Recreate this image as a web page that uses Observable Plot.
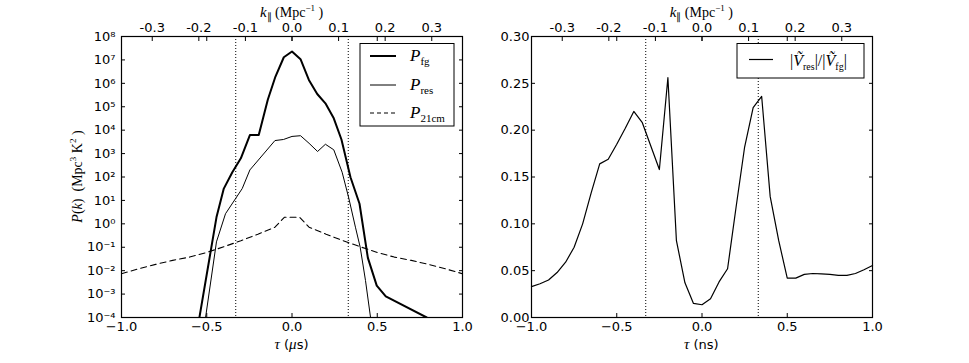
<!DOCTYPE html>
<html><head><meta charset="utf-8">
<script src="https://cdn.jsdelivr.net/npm/d3@7"></script>
<script src="https://cdn.jsdelivr.net/npm/@observablehq/plot@0.6"></script>
<style>
body{margin:0;background:#fff}
#wrap{display:flex;width:969px;height:363px}
#wrap svg{display:block}
</style>
</head><body><div id="wrap"></div>
<script>
// ---- Left panel: power spectra vs delay tau (μs) ----
const tauFg = [-0.56, -0.443, -0.40, -0.35, -0.30, -0.247, -0.195, -0.142, -0.097, -0.048, 0, 0.05, 0.099, 0.148, 0.196, 0.245, 0.29, 0.343, 0.396, 0.445, 0.497, 0.55, 0.79, 0.85];
const Pfg = [1.9e-5, 1.9, 32, 160, 630, 6.2e3, 6.2e3, 2.0e5, 1.95e6, 1.3e7, 2.3e7, 1.07e7, 1.4e6, 3.5e5, 1.4e5, 3.2e4, 4.0e3, 98, 7.2, 0.035, 2.3e-3, 7.9e-4, 1.0e-4, 6.3e-5];

const tauRes = [-0.52, -0.443, -0.39, -0.292, -0.247, -0.10, -0.05, 0, 0.05, 0.10, 0.15, 0.196, 0.245, 0.294, 0.333, 0.372, 0.40, 0.431, 0.47];
const Pres = [2.2e-5, 0.17, 2.7, 32, 200, 3.6e3, 4.0e3, 5.4e3, 5.8e3, 2.75e3, 1.23e3, 2.5e3, 1.45e3, 160, 12.6, 0.72, 0.1, 3.8e-3, 3.2e-5];

const tau21 = [-1, -0.9, -0.8, -0.7, -0.6, -0.5, -0.4, -0.3, -0.2, -0.1, -0.045, 0, 0.045, 0.1, 0.2, 0.3, 0.4, 0.5, 0.6, 0.7, 0.8, 0.9, 1];
const P21 = [7.4e-3, 1.2e-2, 1.86e-2, 2.75e-2, 3.8e-2, 6.0e-2, 0.105, 0.19, 0.36, 0.72, 1.9, 1.9, 1.9, 0.72, 0.36, 0.19, 0.105, 6.0e-2, 3.8e-2, 2.75e-2, 1.86e-2, 1.2e-2, 7.4e-3];

// ---- Right panel: visibility ratio vs delay tau (ns) ----
const tauRatio = [-1, -0.95, -0.9, -0.85, -0.8, -0.75, -0.7, -0.65, -0.6, -0.55, -0.5, -0.45, -0.4, -0.35, -0.25, -0.2, -0.15, -0.1, -0.05, 0, 0.05, 0.1, 0.15, 0.2, 0.25, 0.3, 0.35, 0.4, 0.45, 0.5, 0.55, 0.6, 0.65, 0.7, 0.75, 0.8, 0.85, 0.9, 0.95, 1];
const ratio = [0.033, 0.036, 0.040, 0.048, 0.059, 0.075, 0.100, 0.133, 0.164, 0.169, 0.185, 0.202, 0.220, 0.208, 0.158, 0.256, 0.082, 0.037, 0.015, 0.0136, 0.020, 0.038, 0.052, 0.118, 0.182, 0.224, 0.236, 0.129, 0.082, 0.042, 0.042, 0.046, 0.047, 0.0465, 0.046, 0.045, 0.045, 0.047, 0.051, 0.0555];

// ---- Axes ----
const tauTicks = [-1, -0.5, 0, 0.5, 1];
const kTicks = [-0.3, -0.2, -0.1, 0, 0.1, 0.2, 0.3];
const kPerTau = 0.366;            // k_par (Mpc^-1) per unit tau
const horizon = [-0.33, 0.33];    // dotted horizon lines
const logExps = [-4, -3, -2, -1, 0, 1, 2, 3, 4, 5, 6, 7, 8];
const ratioTicks = [0, 0.05, 0.10, 0.15, 0.20, 0.25, 0.30];

const SUP = {"-":"\u207B","0":"\u2070","1":"\u00B9","2":"\u00B2","3":"\u00B3","4":"\u2074","5":"\u2075","6":"\u2076","7":"\u2077","8":"\u2078","9":"\u2079"};
const supStr = s => String(s).split("").map(c => SUP[c]).join("");

const H = 363;
const SANS = "DejaVu Sans";
const SERIF = "Liberation Serif";

const fgData = tauFg.map((t, i) => ({t, v: Pfg[i]}));
const resData = tauRes.map((t, i) => ({t, v: Pres[i]}));
const d21 = tau21.map((t, i) => ({t, v: P21[i]}));
const rData = tauRatio.map((t, i) => ({t, v: ratio[i]}));

function commonX() {
  return [
    Plot.ruleX(horizon, {stroke: "black", strokeWidth: 1, strokeDasharray: "1,2"}),
    Plot.frame({stroke: "black", strokeWidth: 1.2}),
    Plot.axisX({anchor: "bottom", ticks: tauTicks, tickSize: 0, tickPadding: 4, tickFormat: d => d.toFixed(1).replace("-", "\u2212"), label: null, fontSize: 13}),
    Plot.axisX({anchor: "bottom", ticks: tauTicks, tickSize: -4, tickFormat: () => "", label: null}),
    Plot.axisX({anchor: "top", ticks: tauTicks, tickSize: -4, tickFormat: () => "", label: null}),
    Plot.axisX({anchor: "top", ticks: kTicks.map(k => k / kPerTau), tickSize: -4, tickFormat: () => "", label: null}),
    Plot.axisX({anchor: "top", ticks: kTicks.map(k => k / kPerTau), tickSize: 0, tickPadding: 5, tickFormat: d => (Math.round(d * kPerTau * 10) / 10).toFixed(1), label: null, fontSize: 13})
  ];
}

const left = Plot.plot({
  width: 484, height: H,
  marginLeft: 121, marginRight: 22, marginTop: 36, marginBottom: 46,
  style: {fontFamily: SANS, fontSize: "13px", color: "black", background: "white", overflow: "visible"},
  x: {domain: [-1, 1]},
  y: {type: "log", domain: [1e-4, 1e8]},
  marks: [
    Plot.line(d21, {x: "t", y: "v", stroke: "black", strokeWidth: 1.1, strokeDasharray: "6,4", clip: true}),
    Plot.line(resData, {x: "t", y: "v", stroke: "black", strokeWidth: 1, clip: true}),
    Plot.line(fgData, {x: "t", y: "v", stroke: "black", strokeWidth: 2, clip: true}),
    ...commonX(),
    Plot.axisY({anchor: "left", ticks: logExps.map(e => 10 ** e), tickSize: 0, tickPadding: 6, tickFormat: d => "10" + supStr(Math.round(Math.log10(d))), label: null, fontSize: 13}),
    Plot.axisY({anchor: "left", ticks: logExps.map(e => 10 ** e), tickSize: -4, tickFormat: () => "", label: null}),
    Plot.axisY({anchor: "right", ticks: logExps.map(e => 10 ** e), tickSize: -4, tickFormat: () => "", label: null})
  ]
});

const right = Plot.plot({
  width: 485, height: H,
  marginLeft: 47, marginRight: 97, marginTop: 36, marginBottom: 46,
  style: {fontFamily: SANS, fontSize: "13px", color: "black", background: "white", overflow: "visible"},
  x: {domain: [-1, 1]},
  y: {domain: [0, 0.3]},
  marks: [
    Plot.line(rData, {x: "t", y: "v", stroke: "black", strokeWidth: 1.2}),
    ...commonX(),
    Plot.axisY({anchor: "left", ticks: ratioTicks, tickSize: 0, tickPadding: 2, tickFormat: d => d.toFixed(2), label: null, fontSize: 13}),
    Plot.axisY({anchor: "left", ticks: ratioTicks, tickSize: -4, tickFormat: () => "", label: null}),
    Plot.axisY({anchor: "right", ticks: ratioTicks, tickSize: -4, tickFormat: () => "", label: null})
  ]
});

const wrap = document.getElementById("wrap");
wrap.appendChild(left);
wrap.appendChild(right);

// ---- rich text helper ----
function rich(sel, x, y, parts, opts = {}) {
  const t = sel.append("text").attr("x", x).attr("y", y)
    .attr("text-anchor", opts.anchor || "middle")
    .attr("font-size", opts.size || 13).attr("fill", "black")
    .attr("font-family", opts.family || SANS);
  if (opts.rotate) t.attr("transform", `rotate(${opts.rotate},${x},${y})`);
  let shift = 0;
  for (const p of parts) {
    const ts = t.append("tspan").text(p.t);
    if (p.f) ts.attr("font-family", p.f);
    if (p.i) ts.attr("font-style", "italic");
    if (p.s) ts.attr("font-size", p.s);
    const b = p.b || 0;
    if (b !== shift) { ts.attr("dy", b - shift); shift = b; }
  }
  return t;
}

function kLabel(sel, cx) {
  rich(sel, cx, 17, [
    {t: "k", f: SERIF, i: true, s: 15},
    {t: "\u2225", f: SERIF, s: 10, b: 3},
    {t: " (Mpc", f: SERIF, s: 14, b: 0},
    {t: "\u22121", f: SERIF, s: 9, b: -6},
    {t: " )", f: SERIF, s: 14, b: 0}
  ]);
}

const sl = d3.select(left), sr = d3.select(right);
kLabel(sl, 291.5);
kLabel(sr, 701.3 - 484);

rich(sl, 291.5, 349, [
  {t: "\u03C4", f: SERIF, i: true, s: 15},
  {t: " (", s: 13},
  {t: "\u03BC", f: SERIF, i: true, s: 15},
  {t: "s)", s: 13}
]);
rich(sr, 701.3 - 484, 349, [
  {t: "\u03C4", f: SERIF, i: true, s: 15},
  {t: " (ns)", s: 13}
]);

rich(sl, 82, 176.5, [
  {t: "P", f: SERIF, i: true, s: 14},
  {t: "(", f: SERIF, s: 14},
  {t: "k", f: SERIF, i: true, s: 14},
  {t: ")  (Mpc", f: SERIF, s: 14},
  {t: "3", f: SERIF, s: 9, b: -6},
  {t: " K", f: SERIF, s: 14, b: 0},
  {t: "2", f: SERIF, s: 9, b: -6},
  {t: " )", f: SERIF, s: 14, b: 0}
], {rotate: -90});

// ---- legends ----
const lg = sl.append("g");
lg.append("rect").attr("x", 360).attr("y", 43.5).attr("width", 94).attr("height", 82.5)
  .attr("fill", "white").attr("stroke", "black").attr("stroke-width", 1);
const rows = [
  {y: 56, w: 2, dash: null, sub: "fg"},
  {y: 85, w: 1, dash: null, sub: "res"},
  {y: 113, w: 1.1, dash: "4,3", sub: "21cm"}
];
for (const r of rows) {
  const ln = lg.append("line").attr("x1", 370).attr("x2", 396).attr("y1", r.y).attr("y2", r.y)
    .attr("stroke", "black").attr("stroke-width", r.w);
  if (r.dash) ln.attr("stroke-dasharray", r.dash);
  rich(lg, 410, r.y + 5, [
    {t: "P", f: SERIF, i: true, s: 17},
    {t: r.sub, f: SERIF, s: 11, b: 4}
  ], {anchor: "start"});
}

const rg = sr.append("g");
rg.append("rect").attr("x", 737 - 484).attr("y", 43.5).attr("width", 127).attr("height", 34.5)
  .attr("fill", "white").attr("stroke", "black").attr("stroke-width", 1);
rg.append("line").attr("x1", 749 - 484).attr("x2", 773 - 484).attr("y1", 59.5).attr("y2", 59.5)
  .attr("stroke", "black").attr("stroke-width", 1.2);
rich(rg, 790 - 484, 66, [
  {t: "|", f: SERIF, s: 16},
  {t: "V\u0303", f: SERIF, i: true, s: 16},
  {t: "res", f: SERIF, s: 10, b: 4},
  {t: "|/|", f: SERIF, s: 16, b: 0},
  {t: "V\u0303", f: SERIF, i: true, s: 16},
  {t: "fg", f: SERIF, s: 10, b: 4},
  {t: "|", f: SERIF, s: 16, b: 0}
], {anchor: "start"});
</script>
</body></html>
